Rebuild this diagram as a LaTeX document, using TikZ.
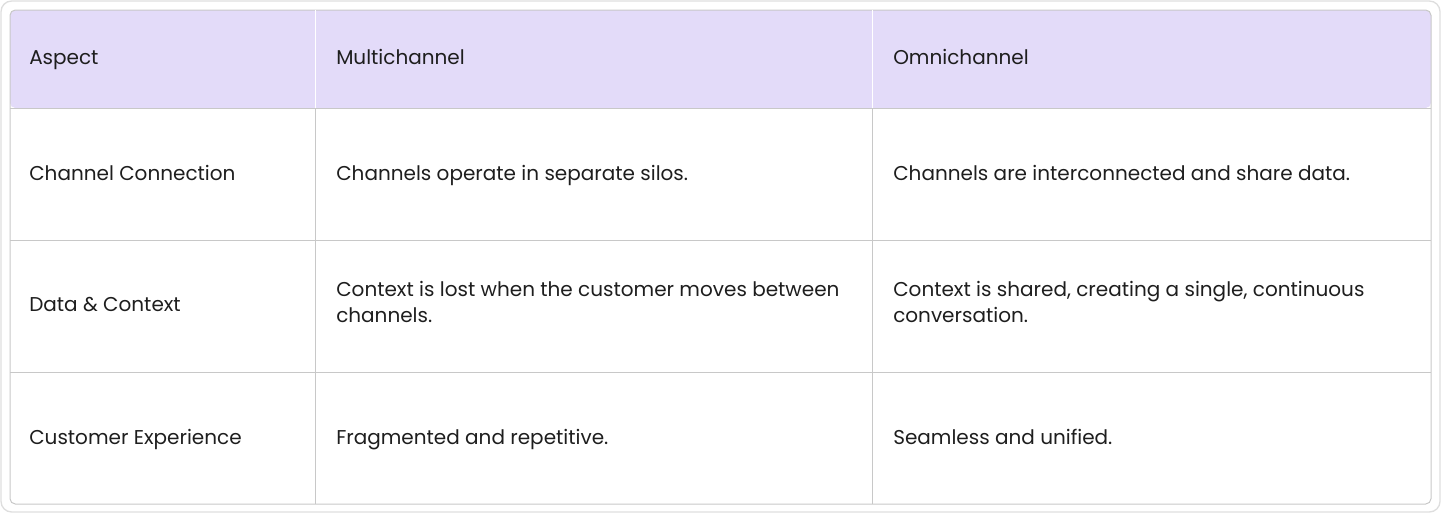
\documentclass[tikz,border=0pt]{standalone}
\usepackage{fontspec}
\setmainfont{Poppins}
\definecolor{headfill}{HTML}{E3DBF9}
\definecolor{gridline}{HTML}{C8C8C8}
\definecolor{txt}{HTML}{1E1E1E}
\begin{document}
\begin{tikzpicture}[
    x = 0.75pt, y = -0.75pt, % pixel grid
    cell/.style = {anchor=west, text=txt, font=\fontsize{15pt}{19.5pt}\selectfont,
                   align=left, inner sep=0pt,
                   execute at begin node={\strut}, execute at end node={\strut}},
    rule/.style = {draw=gridline, line width=0.75pt}
    ]

    \useasboundingbox (0,0) rectangle (1442,514);
    \draw[draw=gridline!60, line width=1pt, rounded corners=8pt] (1,1) rectangle (1440,512);

    % header band and grid
    \fill[headfill, rounded corners=4pt] (10,10) rectangle (1431,108);
    \draw[rule, rounded corners=4pt] (10,10) rectangle (1431,504);
    \foreach \yy in {108,240,372} \draw[rule] (10,\yy) -- (1431,\yy);
    \draw[draw=white, line width=0.75pt] (315,10) -- (315,108);
    \draw[draw=white, line width=0.75pt] (872,10) -- (872,108);
    \draw[rule] (315,108) -- (315,504);
    \draw[rule] (872,108) -- (872,504);

    \node[cell] (h1) at (29,59) {Aspect};
    \node[cell] (h2) at (336,59) {Multichannel};
    \node[cell] (h3) at (893,59) {Omnichannel};

    \node[cell] (a1) at (29,175) {Channel Connection};
    \node[cell] (m1) at (336,175) {Channels operate in separate silos.};
    \node[cell] (o1) at (893,175) {Channels are interconnected and share data.};

    \node[cell] (a2) at (29,306) {Data \& Context};
    \node[cell] (m2) at (336,306) {Context is lost when the customer moves between\\channels.};
    \node[cell] (o2) at (893,306) {Context is shared, creating a single, continuous\\conversation.};

    \node[cell] (a3) at (29,439) {Customer Experience};
    \node[cell] (m3) at (336,439) {Fragmented and repetitive.};
    \node[cell] (o3) at (893,439) {Seamless and unified.};
\end{tikzpicture}
\end{document}
